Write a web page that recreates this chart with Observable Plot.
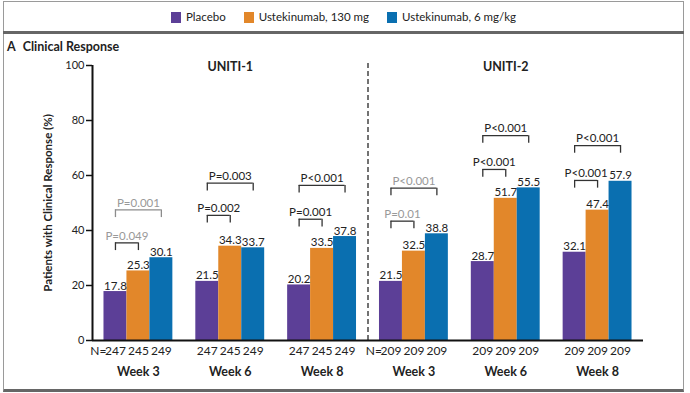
<!DOCTYPE html>
<html><head><meta charset="utf-8">
<script src="https://cdn.jsdelivr.net/npm/d3@7"></script>
<script src="https://cdn.jsdelivr.net/npm/@observablehq/plot@0.6"></script>
<style>
html,body{margin:0;padding:0;background:#fff;}
#wrap{position:relative;width:690px;height:393px;overflow:hidden;background:#fff;font-family:Lato,"Open Sans",sans-serif;color:#222;}
#box{position:absolute;left:3px;top:1px;width:679px;height:387px;border:1px solid #9a9a9a;border-bottom:3px solid #666;}
#sep{position:absolute;left:3px;top:31px;width:681px;height:3px;background:#666;}
#legend{position:absolute;left:3px;top:10px;width:681px;display:flex;justify-content:center;align-items:center;font-size:11.5px;line-height:14px;}
#legend .item{display:flex;align-items:center;margin:0 9px;}
#legend .sw{width:10px;height:11px;margin-right:5px;}
#panel{position:absolute;left:7px;top:39px;font-size:12.5px;font-weight:bold;line-height:15px;z-index:2;}
#panel .letter{margin-right:7px;}
#chart{position:absolute;left:0;top:38px;z-index:1;}
</style></head>
<body>
<div id="wrap">
  <div id="box"></div>
  <div id="legend"></div>
  <div id="sep"></div>
  <div id="chart"></div>
  <div id="panel"><span class="letter">A</span><span>Clinical Response</span></div>
</div>
<script>
// ---- data ----
const treatments = ["Placebo", "Ustekinumab, 130 mg", "Ustekinumab, 6 mg/kg"];
const colors = ["#5c3f97", "#e2872a", "#0a6fb0"];
const trials = ["UNITI-1", "UNITI-2"];
const weeks = ["Week 3", "Week 6", "Week 8", "Week 3", "Week 6", "Week 8"];
const placebo = [17.8, 21.5, 20.2, 21.5, 28.7, 32.1];
const ust130 = [25.3, 34.3, 33.5, 32.5, 51.7, 47.4];
const ust6 = [30.1, 33.7, 37.8, 38.8, 55.5, 57.9];
const nPlacebo = [247, 247, 247, 209, 209, 209];
const n130 = [245, 245, 245, 209, 209, 209];
const n6 = [249, 249, 249, 209, 209, 209];
const pVs130 = ["P=0.049", "P=0.002", "P=0.001", "P=0.01", "P<0.001", "P<0.001"];
const pVs6 = ["P=0.001", "P=0.003", "P<0.001", "P<0.001", "P<0.001", "P<0.001"];
const pLevel130 = [35.5, 45.5, 44.1, 43.4, 62.2, 58.2];
const pLevel6 = [47.5, 57.2, 56.4, 55.4, 74.5, 70.9];
const pNominal = [true, false, false, true, false, false];
const yTicks = [0, 20, 40, 60, 80, 100];
const yLabel = "Patients with Clinical Response (%)";

// ---- legend ----
const leg = document.getElementById("legend");
treatments.forEach((t, i) => {
  const it = document.createElement("div"); it.className = "item";
  const sw = document.createElement("div"); sw.className = "sw"; sw.style.background = colors[i];
  const tx = document.createElement("span"); tx.textContent = t;
  it.append(sw, tx); leg.append(it);
});

// ---- derived tables ----
const pad = 0.125, barW = 0.25;
const cx = (g, t) => g + pad + barW * (t + 0.5);
const series = [placebo, ust130, ust6];
const ns = [nPlacebo, n130, n6];
const bars = weeks.flatMap((w, g) => series.map((arr, t) => ({g, t, treatment: treatments[t], value: arr[g], n: ns[t][g]})));
const brackets = weeks.flatMap((w, g) => [
  {g, to: 1, level: pLevel130[g], label: pVs130[g], nominal: pNominal[g], wide: false},
  {g, to: 2, level: pLevel6[g], label: pVs6[g], nominal: pNominal[g], wide: true}
]);
const legs = brackets.flatMap(b => [{...b, x: cx(b.g, 0)}, {...b, x: cx(b.g, b.to)}]);
const drop = 2.8;
const bracketStroke = b => (b.nominal && b.wide && b.g < 3) ? "#8c8c8c" : "#333";
const textFill = b => b.nominal ? "#999" : "#222";

const chart = Plot.plot({
  width: 690, height: 350,
  marginTop: 27, marginBottom: 48, marginLeft: 92, marginRight: 47,
  x: {type: "linear", domain: [0, 6], axis: null},
  y: {domain: [0, 100]},
  color: {domain: treatments, range: colors},
  style: {fontFamily: "Lato, 'Open Sans', sans-serif", fontSize: "11px", color: "#222", background: "transparent", overflow: "visible"},
  marks: [
    Plot.axisY({ticks: yTicks, tickSize: 6, tickPadding: 2, label: null, fontSize: 11, strokeWidth: 1.5, stroke: "#111"}),
    Plot.rectY(bars, {x1: d => d.g + pad + barW * d.t, x2: d => d.g + pad + barW * (d.t + 1), y: "value", fill: "treatment"}),
    Plot.text(bars, {x: d => cx(d.g, d.t), y: "value", text: d => d.value.toFixed(1), lineAnchor: "bottom", dy: -2, fontSize: 11.5, fill: "#222"}),
    Plot.text(bars, {x: d => cx(d.g, d.t), y: () => 0, text: d => String(d.n), dy: 11, fontSize: 12, fill: "#222"}),
    Plot.text(weeks.map((w, g) => g).filter(g => g % 3 === 0), {x: g => cx(g, 0), y: () => 0, text: () => "N=", textAnchor: "end", dx: -9, dy: 11, fontSize: 12, fill: "#222"}),
    Plot.text(weeks, {x: (d, g) => g + 0.5, y: () => 0, text: d => d, dy: 31, fontWeight: "bold", fontSize: 12.5, fill: "#222"}),
    Plot.text(trials, {x: (d, i) => i * 3 + 1.5, y: () => 100, text: d => d, dy: 1, fontWeight: "bold", fontSize: 12.5, fill: "#222"}),
    Plot.ruleX([3], {y1: () => 0, y2: () => 101, stroke: "#444", strokeWidth: 1.5, strokeDasharray: "5,3"}),
    Plot.ruleY(brackets, {y: "level", x1: b => cx(b.g, 0), x2: b => cx(b.g, b.to), stroke: bracketStroke, strokeWidth: 1.3}),
    Plot.ruleX(legs, {x: "x", y1: "level", y2: b => b.level - drop, stroke: bracketStroke, strokeWidth: 1.3}),
    Plot.text(brackets, {x: b => (cx(b.g, 0) + cx(b.g, b.to)) / 2, y: "level", text: "label", dy: -7, fontSize: 11.5, fill: textFill}),
    Plot.ruleY([0], {x1: () => 0, x2: () => 6, stroke: "#111", strokeWidth: 2}),
    Plot.ruleX([0], {y1: () => 0, y2: () => 100, stroke: "#111", strokeWidth: 2}),
    Plot.text([yLabel], {frameAnchor: "left", textAnchor: "middle", rotate: -90, dx: -44, text: d => d, fontWeight: "bold", fontSize: 11.5, fill: "#222"})
  ]
});
document.getElementById("chart").append(chart);
</script>
</body></html>
